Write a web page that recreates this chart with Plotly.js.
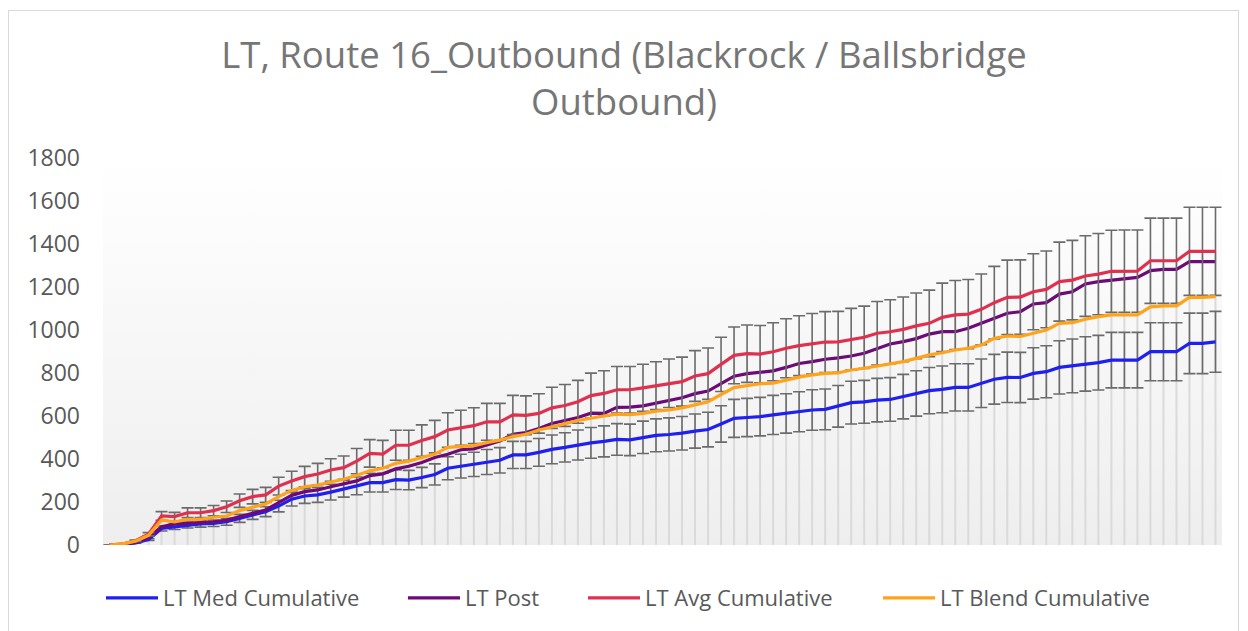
<!DOCTYPE html>
<html>
<head>
<meta charset="utf-8">
<script src="https://cdn.plot.ly/plotly-3.0.1.min.js"></script>
<style>
  html, body { margin: 0; padding: 0; background: #ffffff; }
  #frame { position: absolute; left: 8px; top: 10px; width: 1231px; height: 640px; border: 1px solid #d9d9d9; box-sizing: border-box; }
  #chart { position: absolute; left: 0; top: 0; width: 1248px; height: 631px; }
</style>
</head>
<body>
<div id="frame"></div>
<div id="chart"></div>
<script>
// ---- data ----
const chartTitle = "LT, Route 16_Outbound (Blackrock / Ballsbridge<br>Outbound)";
const seriesNames = ["LT Med Cumulative", "LT Post", "LT Avg Cumulative", "LT Blend Cumulative"];

const ltMedCumulative = [0, 2, 10, 25, 77, 85, 93, 98, 101, 108, 124, 140, 155, 181, 213, 228, 233, 246, 262, 275,
  290, 290, 304, 302, 314, 328, 357, 367, 375, 386, 394, 419, 419, 431, 445, 454, 465, 475, 482, 491,
  489, 501, 510, 514, 520, 530, 537, 563, 589, 593, 597, 605, 612, 620, 628, 631, 645, 662, 666, 674,
  677, 690, 705, 718, 724, 733, 733, 752, 771, 780, 779, 798, 806, 826, 833, 842, 848, 860, 860, 860,
  899, 899, 899, 938, 938, 945];

const ltPost = [0, 3, 12, 35, 85, 98, 101, 104, 108, 116, 132, 150, 163, 197, 231, 248, 256, 271, 284, 298,
  323, 331, 354, 366, 384, 407, 422, 443, 447, 467, 484, 515, 523, 542, 565, 579, 593, 613, 612, 640,
  641, 647, 660, 670, 685, 704, 716, 751, 785, 797, 804, 810, 826, 844, 853, 864, 870, 879, 892, 915,
  935, 946, 960, 981, 992, 992, 1008, 1031, 1054, 1078, 1085, 1121, 1127, 1167, 1178, 1214, 1225, 1232, 1236, 1245,
  1276, 1282, 1282, 1318, 1318, 1318];

const ltAvgCumulative = [0, 5, 20, 50, 135, 132, 150, 150, 160, 178, 206, 225, 233, 274, 298, 318, 330, 349, 360, 390,
  426, 423, 464, 464, 486, 504, 535, 545, 555, 573, 573, 605, 603, 612, 638, 649, 666, 695, 705, 722,
  722, 731, 741, 752, 760, 786, 797, 840, 882, 890, 888, 899, 915, 927, 936, 944, 945, 957, 966, 985,
  992, 1003, 1019, 1031, 1059, 1070, 1074, 1096, 1127, 1152, 1153, 1178, 1189, 1225, 1232, 1251, 1260, 1273, 1274, 1274,
  1322, 1322, 1322, 1366, 1366, 1366];

const ltBlendCumulative = [0, 5, 18, 45, 116, 108, 119, 119, 129, 135, 160, 175, 191, 225, 254, 271, 279, 293, 306, 324,
  345, 357, 380, 390, 405, 423, 454, 458, 462, 476, 488, 504, 515, 535, 551, 564, 579, 591, 600, 609,
  606, 612, 623, 628, 638, 652, 666, 700, 732, 741, 750, 753, 767, 781, 791, 798, 801, 814, 822, 833,
  845, 853, 868, 884, 894, 907, 915, 930, 961, 972, 970, 985, 1000, 1031, 1034, 1050, 1062, 1070, 1070, 1070,
  1108, 1112, 1112, 1152, 1152, 1155];

const errorPercent = 15;
const yTickValues = [0, 200, 400, 600, 800, 1000, 1200, 1400, 1600, 1800];

// ---- build ----
const xs = ltAvgCumulative.map((_, i) => i);

// drop lines from the highest series to the axis
const dropX = [], dropY = [];
xs.forEach((x, i) => { dropX.push(x, x, null); dropY.push(0, ltAvgCumulative[i], null); });

const errStyle = { type: 'percent', value: errorPercent, color: '#6b6b6b', thickness: 1.6, width: 6 };

const traces = [
  { x: dropX, y: dropY, mode: 'lines', line: { color: '#dadada', width: 2 }, showlegend: false, hoverinfo: 'skip' },
  { x: xs, y: ltMedCumulative, name: seriesNames[0], legend: 'legend', mode: 'lines', line: { color: '#1f1ff0', width: 3.2 }, error_y: errStyle },
  { x: xs, y: ltPost, name: seriesNames[1], legend: 'legend2', mode: 'lines', line: { color: '#6e0a78', width: 3.2 } },
  { x: xs, y: ltAvgCumulative, name: seriesNames[2], legend: 'legend3', mode: 'lines', line: { color: '#e0304f', width: 3.2 }, error_y: errStyle },
  { x: xs, y: ltBlendCumulative, name: seriesNames[3], legend: 'legend4', mode: 'lines', line: { color: '#ffa31a', width: 3.2 } }
];

const grad = 'data:image/svg+xml;utf8,' + encodeURIComponent(
  '<svg xmlns="http://www.w3.org/2000/svg" width="10" height="100" preserveAspectRatio="none">' +
  '<defs><linearGradient id="g" x1="0" y1="0" x2="0" y2="1">' +
  '<stop offset="0" stop-color="#ffffff"/><stop offset="0.12" stop-color="#fdfdfd"/><stop offset="1" stop-color="#eeeeee"/>' +
  '</linearGradient></defs><rect width="10" height="100" fill="url(#g)"/></svg>');

const plotLeft = 103, plotWidth = 1119;
function legendAt(px) {
  return {
    orientation: 'h', x: (px - plotLeft) / plotWidth, xanchor: 'left', y: -0.137, yanchor: 'middle',
    font: { size: 22, color: '#595959' }, bgcolor: 'rgba(0,0,0,0)', itemwidth: 52
  };
}

const layout = {
  width: 1248, height: 631,
  margin: { l: 103, r: 26, t: 158, b: 86 },
  paper_bgcolor: 'rgba(0,0,0,0)',
  plot_bgcolor: 'rgba(0,0,0,0)',
  font: { family: 'Open Sans, Noto Sans, sans-serif', color: '#595959' },
  title: {
    text: chartTitle,
    font: { size: 36.5, color: '#767676', family: 'Open Sans, Noto Sans, sans-serif' },
    x: 0.5, xanchor: 'center', xref: 'container',
    y: 0.893, yanchor: 'top', yref: 'container'
  },
  xaxis: { range: [-0.5, xs.length - 0.5], showticklabels: false, showgrid: false, zeroline: false, showline: false, ticks: '' },
  yaxis: {
    range: [0, 1800], tickvals: yTickValues, ticktext: yTickValues.map(String),
    showgrid: false, zeroline: false, showline: false, ticks: '',
    tickfont: { size: 23, color: '#595959' }, ticklabelstandoff: 22
  },
  legend: legendAt(101),
  legend2: legendAt(403),
  legend3: legendAt(583),
  legend4: legendAt(878),
  images: [{ source: grad, xref: 'paper', yref: 'paper', x: 0, y: 1, sizex: 1, sizey: 1,
    sizing: 'stretch', layer: 'below', xanchor: 'left', yanchor: 'top' }],
  showlegend: true
};

Plotly.newPlot('chart', traces, layout, { staticPlot: true, displayModeBar: false });
</script>
</body>
</html>
